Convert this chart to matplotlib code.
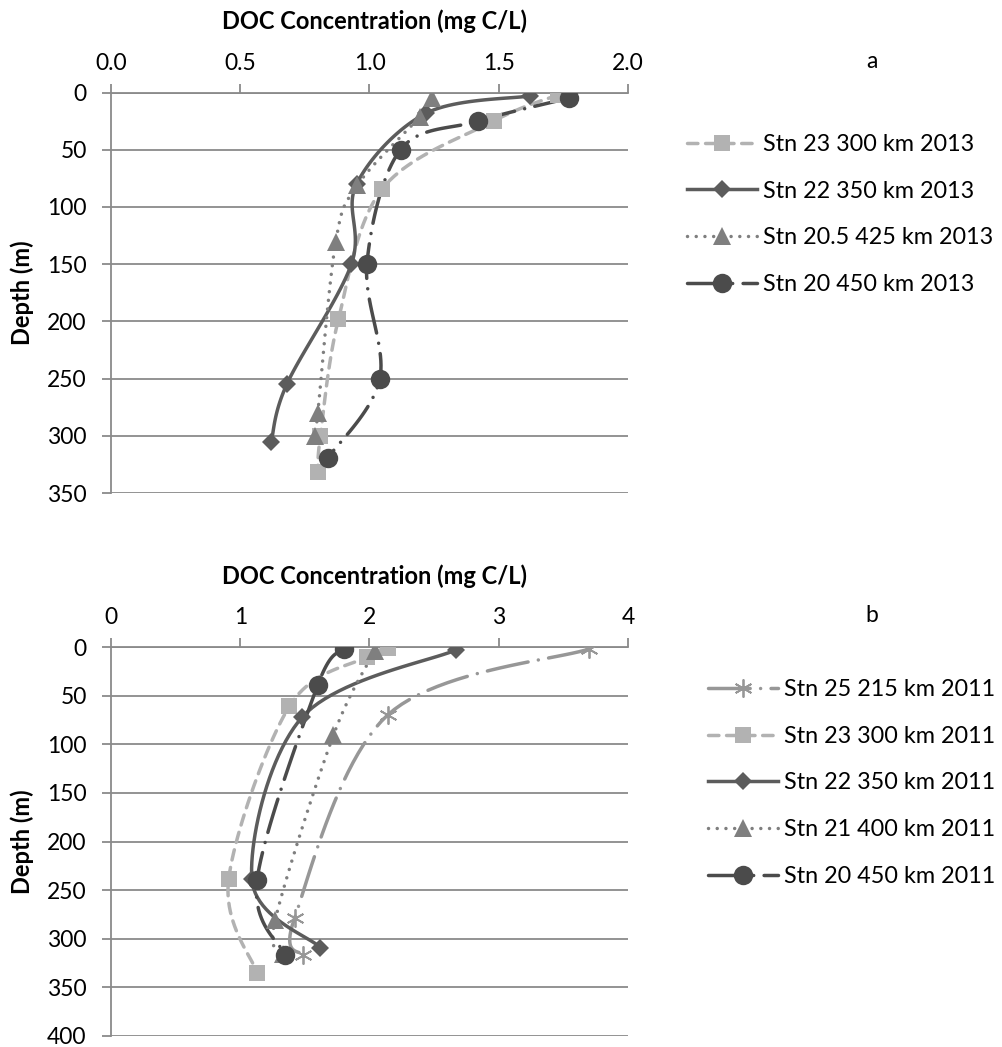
import numpy as np
import matplotlib
matplotlib.use("Agg")
import matplotlib.pyplot as plt
from matplotlib.lines import Line2D

plt.rcParams["font.family"] = ["Lato", "DejaVu Sans"]

# ---------------------------- Data -----------------------------------
# panel a (2013)
a_labels = ["Stn 23 300 km 2013", "Stn 22 350 km 2013",
            "Stn 20.5 425 km 2013", "Stn 20 450 km 2013"]
a_doc = [
    [1.73, 1.48, 1.05, 0.88, 0.81, 0.80],
    [1.62, 1.22, 0.95, 0.93, 0.68, 0.62],
    [1.24, 1.195, 0.953, 0.869, 0.80, 0.79],
    [1.77, 1.42, 1.12, 0.99, 1.04, 0.84],
]
a_depth = [
    [2, 25, 84, 198, 300, 332],
    [3, 18, 80, 150, 255, 305],
    [5, 21, 81, 131, 280, 300],
    [5, 25, 50, 150, 250, 319],
]

# panel b (2011)
b_labels = ["Stn 25 215 km 2011", "Stn 23 300 km 2011", "Stn 22 350 km 2011",
            "Stn 21 400 km 2011", "Stn 20 450 km 2011"]
b_doc = [
    [3.70, 2.14, 1.42, 1.485],
    [2.14, 1.98, 1.38, 0.91, 1.13],
    [2.67, 1.48, 1.09, 1.62],
    [2.04, 1.72, 1.27, 1.33],
    [1.80, 1.60, 1.13, 1.35],
]
b_depth = [
    [2, 70, 279, 317],
    [1, 10, 61, 239, 335],
    [3, 72, 239, 309],
    [4, 91, 281, 316],
    [2, 39, 240, 317],
]

# ---------------------------- Styles ---------------------------------
STY = {
    "sq": dict(color="#b2b2b2", ls=(0, (3.0, 2.2)), marker="s", ms=12),
    "dia": dict(color="#5c5c5c", ls="-", marker="D", ms=9),
    "tri": dict(color="#7f7f7f", ls=(0, (0.01, 2.5)), marker="^", ms=13),
    "circ": dict(color="#4b4b4b", ls=(0, (10, 3, 0.01, 3)), marker="o", ms=14),
    "ast": dict(color="#979797", ls=(0, (12, 3, 0.01, 3)), marker=(6, 2, 0), ms=13),
}
a_styles = ["sq", "dia", "tri", "circ"]
b_styles = ["ast", "sq", "dia", "tri", "circ"]
LW = 2.5
GRID = "#8a8a8a"
FS = 16.5


def smooth(ax, x, y, n=24):
    # Excel-like smoothed line, done in pixel space
    pts = ax.transData.transform(np.column_stack([x, y]))
    out = [pts[0]]
    t = np.linspace(0, 1, n)[1:, None]
    for i in range(len(pts) - 1):
        p0 = pts[i - 1] if i > 0 else pts[i]
        p1, p2 = pts[i], pts[i + 1]
        p3 = pts[i + 2] if i + 2 < len(pts) else pts[i + 1]
        c1 = p1 + (p2 - p0) / 6.0
        c2 = p2 - (p3 - p1) / 6.0
        seg = (1 - t) ** 3 * p1 + 3 * (1 - t) ** 2 * t * c1 + 3 * (1 - t) * t ** 2 * c2 + t ** 3 * p2
        out.extend(seg)
    res = ax.transData.inverted().transform(np.array(out))
    return res[:, 0], res[:, 1]


def setup_axes(ax, xmax, xticks, xfmt, ymax):
    ax.set_xlim(0, xmax)
    ax.set_ylim(ymax, 0)
    ax.xaxis.tick_top()
    ax.set_xticks(xticks)
    ax.set_xticklabels([xfmt.format(v) for v in xticks])
    ax.set_yticks(np.arange(0, ymax + 1, 50))
    ax.tick_params(axis="both", direction="out", length=6.5, width=1.3, color=GRID,
                   labelsize=FS, labelcolor="black")
    ax.tick_params(axis="x", pad=7)
    ax.tick_params(axis="y", pad=11)
    for s in ["right", "bottom"]:
        ax.spines[s].set_visible(False)
    for s in ["left", "top"]:
        ax.spines[s].set_color(GRID)
        ax.spines[s].set_linewidth(1.3)
    ax.grid(axis="y", color=GRID, lw=1.3)
    ax.set_axisbelow(True)


def draw_panel(ax, docs, depths, styles, labels):
    handles = []
    for x, y, key, lab in zip(docs, depths, styles, labels):
        st = STY[key]
        sx, sy = smooth(ax, x, y)
        ax.plot(sx, sy, color=st["color"], lw=LW, ls=st["ls"],
                solid_capstyle="round", dash_capstyle="round", zorder=3)
        mew = 1.3 if key == "ast" else 0
        ax.plot(x, y, ls="none", marker=st["marker"], ms=st["ms"], color=st["color"],
                mec=st["color"], mew=mew, zorder=4)
        handles.append(Line2D([], [], color=st["color"], lw=LW, ls=st["ls"],
                              dash_capstyle="round", marker=st["marker"], ms=st["ms"],
                              mew=mew, label=lab))
    return handles


fig = plt.figure(figsize=(10.03, 10.47), dpi=100)
W, H = 1003.0, 1047.0

# panel a
ax_a = fig.add_axes([111 / W, 1 - 493 / H, 517 / W, 400.5 / H])
setup_axes(ax_a, 2.0, [0, 0.5, 1.0, 1.5, 2.0], "{:.1f}", 350)
h_a = draw_panel(ax_a, a_doc, a_depth, a_styles, a_labels)

# panel b
ax_b = fig.add_axes([111 / W, 1 - 1036 / H, 517 / W, 389 / H])
setup_axes(ax_b, 4, [0, 1, 2, 3, 4], "{:d}", 400)
h_b = draw_panel(ax_b, b_doc, b_depth, b_styles, b_labels)

for ytit, ylab, letter, ly in [(21, 292.5, "a", 62), (576, 841.5, "b", 616)]:
    fig.text(375 / W, 1 - ytit / H, "DOC Concentration (mg C/L)", ha="center",
             va="center", fontsize=17, fontweight="bold")
    fig.text(22 / W, 1 - ylab / H, "Depth (m)", rotation=90, ha="center",
             va="center", fontsize=17, fontweight="bold")
    fig.text(872 / W, 1 - ly / H, letter, ha="center", va="center", fontsize=FS)

leg_kw = dict(loc="upper left", bbox_transform=fig.transFigure, frameon=False,
              fontsize=16.8, handlelength=3.0, handletextpad=0.25, labelspacing=1.1,
              numpoints=1, borderaxespad=0, borderpad=0)
fig.legend(handles=h_a, bbox_to_anchor=(687 / W, 1 - 134 / H), **leg_kw)
fig.legend(handles=h_b, bbox_to_anchor=(708 / W, 1 - 679 / H), **leg_kw)

fig.savefig("out.png", dpi=100)
